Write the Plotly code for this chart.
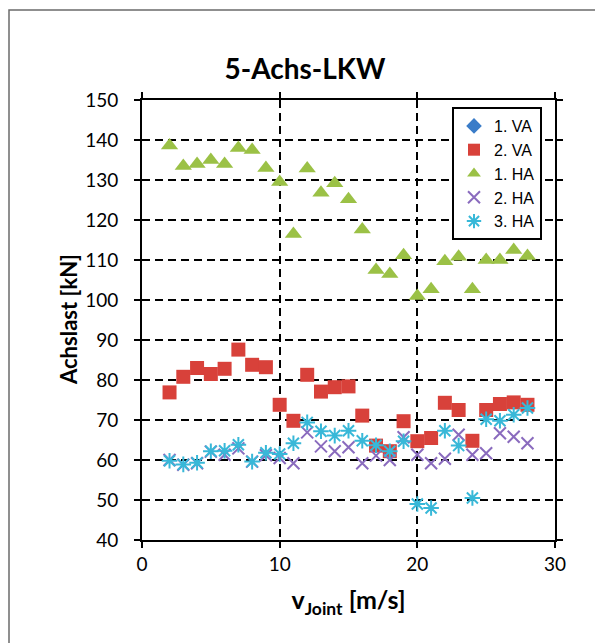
import plotly.graph_objects as go

speed = list(range(2, 29))

va1_speed = [None]  # 1. VA: no visible points in the chart, legend entry only
va1 = [None]
va2 = [76.9, 80.8, 83.0, 81.5, 82.8, 87.6, 83.8, 83.2, 73.8, 69.8, 81.3, 77.1, 78.2, 78.4,
       71.1, 63.6, 62.2, 69.7, 64.7, 65.5, 74.3, 72.5, 64.8, 72.5, 74.0, 74.4, 73.8]
ha1 = [138.6, 133.5, 134.0, 135.0, 134.0, 138.0, 137.5, 133.0, 129.5, 116.5, 132.9, 126.8,
       129.2, 125.2, 117.6, 107.5, 106.5, 111.2, 101.0, 102.7, 109.7, 110.8, 102.7, 110.0,
       110.0, 112.5, 111.0]
ha2 = [60.0, 58.8, 59.2, 62.1, 61.3, 62.9, 59.6, 61.2, 60.5, 59.2, 66.9, 63.4, 62.2, 63.2,
       59.2, 61.1, 60.0, 65.7, 61.3, 59.2, 60.3, 66.3, 61.3, 61.7, 66.7, 65.8, 64.2]
ha3 = [59.8, 58.9, 59.3, 62.2, 62.3, 63.8, 59.6, 61.8, 61.5, 64.2, 69.4, 67.2, 66.1, 67.3,
       64.8, 63.7, 62.2, 64.7, 49.0, 48.0, 67.3, 63.6, 50.5, 70.2, 69.8, 71.3, 73.0]

y_ticks = list(range(40, 151, 10))
x_ticks = [0, 10, 20, 30]

fig = go.Figure()
fig.add_trace(go.Scatter(x=va1_speed, y=va1, mode="markers", name="1. VA",
                         marker=dict(symbol="diamond", size=13, color="#3a7cc8")))
fig.add_trace(go.Scatter(x=speed, y=va2, mode="markers", name="2. VA",
                         marker=dict(symbol="square", size=14, color="#d8413a")))
fig.add_trace(go.Scatter(x=speed, y=ha1, mode="markers", name="1. HA",
                         marker=dict(symbol="triangle-up", size=15, color="#9bc146")))
fig.add_trace(go.Scatter(x=speed, y=ha2, mode="markers", name="2. HA",
                         marker=dict(symbol="x-thin-open", size=12, color="#8a6bbe",
                                     line=dict(width=2, color="#8a6bbe"))))
fig.add_trace(go.Scatter(x=speed, y=ha3, mode="markers", name="3. HA",
                         marker=dict(symbol="asterisk-open", size=13, color="#38b8d8",
                                     line=dict(width=2, color="#38b8d8"))))

axis_common = dict(
    showline=True, linecolor="black", linewidth=2, mirror="ticks",
    ticks="outside", ticklen=6, tickwidth=2, tickcolor="black",
    showgrid=True, gridcolor="black", gridwidth=2, griddash="8px,5px",
    zeroline=False, tickfont=dict(family="Lato", size=19, color="black"),
)

# page has an 8px body margin; figure is sized/offset to compensate
W, H = 595, 635
L, T = 134, 92
PW, PH = 413, 440

fig.update_layout(
    width=W, height=H,
    paper_bgcolor="white", plot_bgcolor="white",
    margin=dict(l=L, r=W - L - PW, t=T, b=H - T - PH),
    title=dict(text="<b>5-Achs-LKW</b>", x=(305 - 8) / W, xanchor="center",
               y=1 - (69 - 8) / H, yanchor="middle",
               font=dict(family="Lato", size=28, color="black")),
    xaxis=dict(range=[0, 30], tickvals=x_ticks,
               title=dict(text="<b>v<sub>Joint</sub> [m/s]</b>",
                          font=dict(family="Lato", size=25, color="black"), standoff=18),
               **axis_common),
    yaxis=dict(range=[40, 150], tickvals=y_ticks, ticklabelstandoff=12,
               **axis_common),
    legend=dict(x=(452 - 142) / PW, y=1 - (107 - 100) / PH, xanchor="left", yanchor="top",
                bgcolor="white", bordercolor="black", borderwidth=2,
                font=dict(family="Liberation Sans", size=16, color="black"),
                itemsizing="constant", tracegroupgap=0),
    showlegend=True,
)

# y-axis title placed where the reference shows it
fig.add_annotation(text="<b>Achslast [kN]</b>", xref="paper", yref="paper",
                   x=(68 - 142) / PW, y=1 - (320 - 100) / PH, xanchor="center", yanchor="middle",
                   textangle=-90, showarrow=False,
                   font=dict(family="Lato", size=22, color="black"))

# outer chart frame (pixel positions converted to paper coords)
fig.add_shape(type="rect", xref="paper", yref="paper",
              x0=(9 - 142) / PW, x1=(660 - 142) / PW,
              y0=1 - (700 - 100) / PH, y1=1 - (10 - 100) / PH,
              line=dict(color="#6b6b6b", width=1.5), layer="below")

fig.write_html("out.html")
